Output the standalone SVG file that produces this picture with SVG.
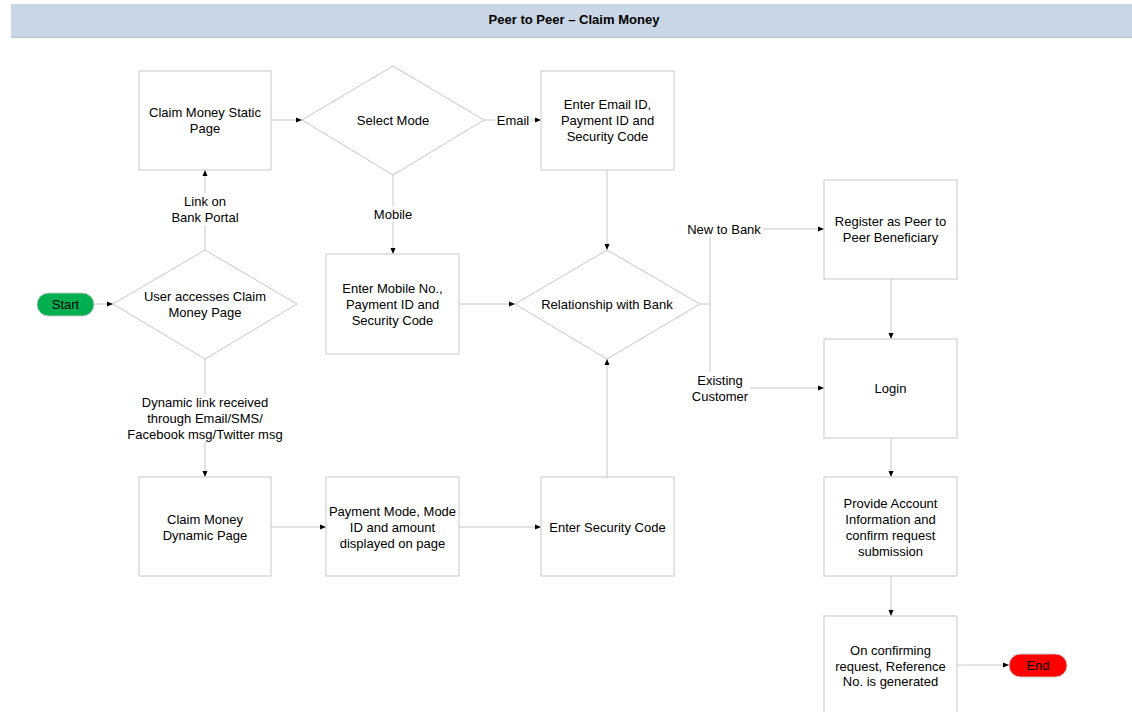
<svg xmlns="http://www.w3.org/2000/svg" width="1132" height="712" viewBox="0 0 1132 712">
<defs>
<marker id="ah" markerWidth="6" markerHeight="6" refX="6" refY="3" orient="auto" markerUnits="userSpaceOnUse">
<path d="M0,0.5 L6,3 L0,5.5 z" fill="#000"/>
</marker>
<style>
.box{fill:#fff;stroke:#c8c8c8;stroke-width:1}
.t{font-family:"Liberation Sans",Arial,sans-serif;font-size:13px;fill:#000;text-anchor:middle;dominant-baseline:central}
.c{fill:none;stroke:#c8c8c8;stroke-width:1}
.ca{fill:none;stroke:#c8c8c8;stroke-width:1;marker-end:url(#ah)}
.lbg{fill:#fff}
</style>
</defs>
<rect x="0" y="0" width="1132" height="712" fill="#fff"/>
<g id="title">
<rect x="11" y="4" width="1121" height="33" fill="#c9d6e6"/>
<line x1="11" y1="37.5" x2="1132" y2="37.5" stroke="#b8c2cc"/>
<text class="t" x="574" y="19" font-weight="bold" textLength="171" lengthAdjust="spacingAndGlyphs">Peer to Peer – Claim Money</text>
</g>
<g id="connectors">
<path class="ca" d="M94,304 L113,304"/>
<path class="ca" d="M205,250 L205,170"/>
<path class="ca" d="M271,120 L302,120"/>
<path class="ca" d="M484,120 L541,120"/>
<path class="ca" d="M393,175 L393,254"/>
<path class="ca" d="M607,170 L607,250"/>
<path class="ca" d="M459,304 L515,304"/>
<path class="ca" d="M607,477 L607,359"/>
<path class="ca" d="M700,304 L710,304 L710,229 L824,229"/>
<path class="ca" d="M710,304 L710,388 L824,388"/>
<path class="ca" d="M891,279 L891,339"/>
<path class="ca" d="M891,438 L891,477"/>
<path class="ca" d="M891,576 L891,616"/>
<path class="ca" d="M957,665 L1009,665"/>
<path class="ca" d="M205,359 L205,477"/>
<path class="ca" d="M271,527 L326,527"/>
<path class="ca" d="M459,527 L541,527"/>
<rect class="lbg" x="174" y="193" width="62" height="33"/>
<text class="t" x="205" y="201">Link on</text>
<text class="t" x="205" y="217">Bank Portal</text>
<rect class="lbg" x="495" y="112" width="36" height="16"/>
<text class="t" x="513" y="120">Email</text>
<rect class="lbg" x="371" y="206" width="44" height="16"/>
<text class="t" x="393" y="214">Mobile</text>
<rect class="lbg" x="685" y="221" width="78" height="16"/>
<text class="t" x="724" y="229">New to Bank</text>
<rect class="lbg" x="690" y="372" width="60" height="32"/>
<text class="t" x="720" y="380">Existing</text>
<text class="t" x="720" y="396">Customer</text>
<rect class="lbg" x="126" y="394" width="160" height="48"/>
<text class="t" x="205" y="402">Dynamic link received</text>
<text class="t" x="205" y="418">through Email/SMS/</text>
<text class="t" x="205" y="434">Facebook msg/Twitter msg</text>
</g>
<g id="start">
<rect x="37" y="293" width="57" height="23" rx="11.5" fill="#00b050" stroke="#c8c8c8"/>
<text class="t" x="65.5" y="304.5">Start</text>
</g>
<g id="user-access">
<polygon class="box" points="113,304 205,250 297,304 205,359"/>
<text class="t" x="205" y="296">User accesses Claim</text>
<text class="t" x="205" y="312">Money Page</text>
</g>
<g id="static-page">
<rect class="box" x="139" y="71" width="132" height="99"/>
<text class="t" x="205" y="112">Claim Money Static</text>
<text class="t" x="205" y="128">Page</text>
</g>
<g id="select-mode">
<polygon class="box" points="302,120 393,66 484,120 393,175"/>
<text class="t" x="393" y="120">Select Mode</text>
</g>
<g id="enter-email">
<rect class="box" x="541" y="71" width="133" height="99"/>
<text class="t" x="607.5" y="104">Enter Email ID,</text>
<text class="t" x="607.5" y="120">Payment ID and</text>
<text class="t" x="607.5" y="136">Security Code</text>
</g>
<g id="enter-mobile">
<rect class="box" x="326" y="254" width="133" height="100"/>
<text class="t" x="392.5" y="288">Enter Mobile No.,</text>
<text class="t" x="392.5" y="304">Payment ID and</text>
<text class="t" x="392.5" y="320">Security Code</text>
</g>
<g id="relationship">
<polygon class="box" points="515,304 607,250 700,304 607,359"/>
<text class="t" x="607" y="304">Relationship with Bank</text>
</g>
<g id="register">
<rect class="box" x="824" y="180" width="133" height="99"/>
<text class="t" x="890.5" y="221">Register as Peer to</text>
<text class="t" x="890.5" y="237">Peer Beneficiary</text>
</g>
<g id="login">
<rect class="box" x="824" y="339" width="133" height="99"/>
<text class="t" x="890.5" y="388">Login</text>
</g>
<g id="provide">
<rect class="box" x="824" y="477" width="133" height="99"/>
<text class="t" x="890.5" y="503">Provide Account</text>
<text class="t" x="890.5" y="519">Information and</text>
<text class="t" x="890.5" y="535">confirm request</text>
<text class="t" x="890.5" y="551">submission</text>
</g>
<g id="reference">
<rect class="box" x="824" y="616" width="133" height="110"/>
<text class="t" x="890.5" y="650">On confirming</text>
<text class="t" x="890.5" y="666">request, Reference</text>
<text class="t" x="890.5" y="681">No. is generated</text>
</g>
<g id="end">
<rect x="1009" y="654" width="58" height="23" rx="11.5" fill="#ff0000" stroke="#c8c8c8"/>
<text class="t" x="1038" y="665.5">End</text>
</g>
<g id="dynamic-page">
<rect class="box" x="139" y="477" width="132" height="99"/>
<text class="t" x="205" y="519">Claim Money</text>
<text class="t" x="205" y="535">Dynamic Page</text>
</g>
<g id="payment-mode">
<rect class="box" x="326" y="477" width="133" height="99"/>
<text class="t" x="392.5" y="511">Payment Mode, Mode</text>
<text class="t" x="392.5" y="527">ID and amount</text>
<text class="t" x="392.5" y="543">displayed on page</text>
</g>
<g id="security-code">
<rect class="box" x="541" y="477" width="133" height="99"/>
<text class="t" x="607.5" y="527">Enter Security Code</text>
</g>
</svg>
